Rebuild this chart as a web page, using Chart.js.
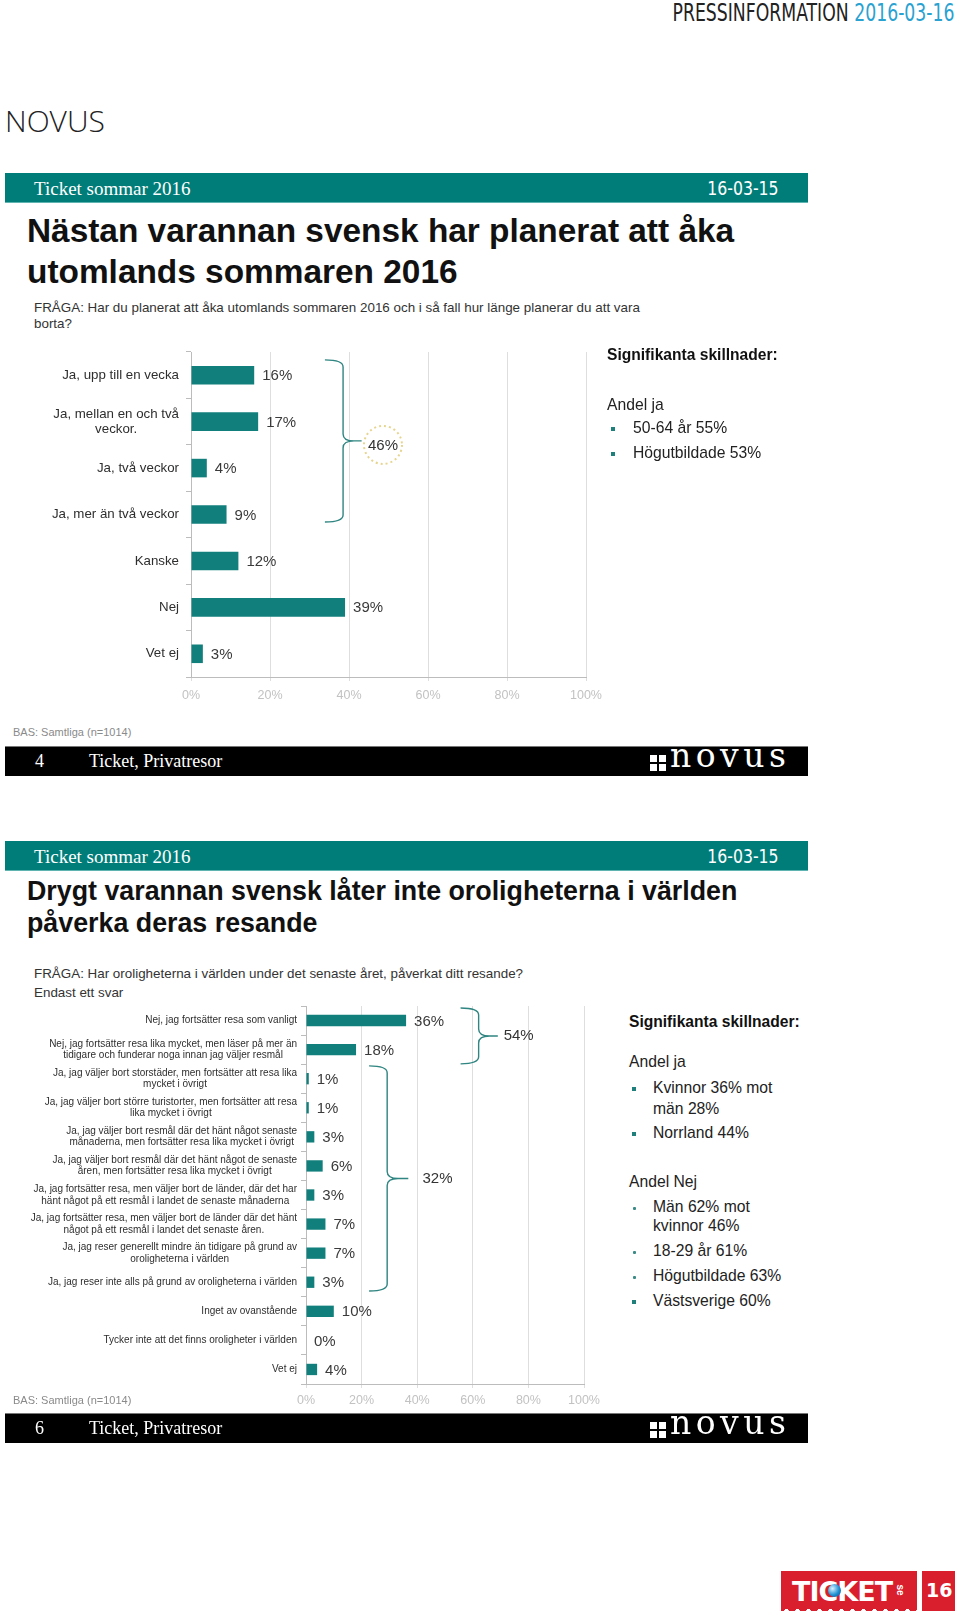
<!DOCTYPE html>
<html lang="sv">
<head>
<meta charset="utf-8">
<title>Ticket sommar 2016 - Novus</title>
<script src="https://cdn.jsdelivr.net/npm/chart.js@4.4.1/dist/chart.umd.min.js"></script>
<style>
  body { margin: 0; background: #fff; }
  #page { position: relative; width: 960px; height: 1618px; overflow: hidden;
          font-family: "Liberation Sans", Arial, sans-serif; color: #1a1a1a; }
  .t { position: absolute; white-space: nowrap; line-height: 1; }
  .band { position: absolute; left: 5px; width: 803px; }
  .teal { background: #007d79; border-bottom: 1px solid #5fb3b0; }
  .black { background: #000; border-top: 1px solid #777; }
  .serif { font-family: "Liberation Serif", "Times New Roman", serif; color: #fff; }
  .narrow { font-family: "Liberation Sans Narrow", "DejaVu Sans Condensed", sans-serif; }
  .title { position: absolute; left: 27px; font-weight: bold; color: #111; white-space: nowrap; }
  .q { position: absolute; left: 34px; font-size: 13.4px; color: #333; white-space: nowrap; }
  .bas { position: absolute; left: 13px; font-size: 11px; color: #8a8a8a; line-height: 1; }
  .ph { position: absolute; font-size: 15.6px; font-weight: bold; color: #111; line-height: 1; white-space: nowrap; }
  .pt { position: absolute; font-size: 15.7px; color: #222; line-height: 1; white-space: nowrap; }
  .sq { position: absolute; width: 4px; height: 4px; background: #1f7f7b; }
  .dot { position: absolute; width: 3px; height: 3px; background: #3a8a86; border-radius: 1px; }
  .novus { position: absolute; height: 20px; }
  .novus i { position: absolute; width: 7px; height: 7px; background: #fff; }
  .novus span { position: absolute; left: 20px; top: -14px; font-family: "DejaVu Serif", serif; font-size: 33px; color: #fff; line-height: 1; letter-spacing: 4.5px; }
  canvas { position: absolute; left: 0; }
</style>
</head>
<body>
<div id="page">

  <div class="t narrow" style="right:5px; top:1px; font-size:24px; color:#222; transform:scaleX(0.8); transform-origin:right center;">PRESSINFORMATION <span style="color:#2aa2d1;">2016-03-16</span></div>
  <div class="t" style="left:5px; top:106px; font-size:30px; font-family:'Open Sans', sans-serif; font-weight:300; color:#222;">NOVUS</div>

  <!-- slide 1 -->
  <div class="band teal" style="top:173px; height:29px;"></div>
  <div class="t serif" style="left:34px; top:179px; font-size:19px;">Ticket sommar 2016</div>
  <div class="t narrow" style="right:181px; top:179px; font-size:19px; color:#fff; transform:scaleX(0.92); transform-origin:right center;">16-03-15</div>
  <div class="title" style="top:210px; font-size:33.4px; line-height:41px;">Nästan varannan svensk har planerat att åka<br>utomlands sommaren 2016</div>
  <div class="q" style="top:300px; line-height:16px;">FRÅGA: Har du planerat att åka utomlands sommaren 2016 och i så fall hur länge planerar du att vara<br>borta?</div>

  <canvas id="chart1" width="620" height="360" style="top:350px;"></canvas>

  <div class="ph" style="left:607px; top:347px;">Signifikanta skillnader:</div>
  <div class="pt" style="left:607px; top:397px;">Andel ja</div>
  <div class="sq" style="left:611px; top:427px;"></div>
  <div class="pt" style="left:633px; top:420px;">50-64 år 55%</div>
  <div class="sq" style="left:611px; top:452px;"></div>
  <div class="pt" style="left:633px; top:445px;">Högutbildade 53%</div>

  <div class="bas" style="top:727px;">BAS: Samtliga (n=1014)</div>
  <div class="band black" style="top:746px; height:29px;"></div>
  <div class="t serif" style="left:35px; top:752px; font-size:18px;">4</div>
  <div class="t serif" style="left:89px; top:752px; font-size:18px;">Ticket, Privatresor</div>
  <div class="novus" style="left:650px; top:753px;">
    <i style="left:0; top:2px;"></i><i style="left:9px; top:2px;"></i>
    <i style="left:0; top:11px;"></i><i style="left:9px; top:11px;"></i>
    <span>novus</span>
  </div>

  <!-- slide 2 -->
  <div class="band teal" style="top:841px; height:29px;"></div>
  <div class="t serif" style="left:34px; top:847px; font-size:19px;">Ticket sommar 2016</div>
  <div class="t narrow" style="right:181px; top:847px; font-size:19px; color:#fff; transform:scaleX(0.92); transform-origin:right center;">16-03-15</div>
  <div class="title" style="top:875px; font-size:26.8px; line-height:32px;">Drygt varannan svensk låter inte oroligheterna i världen<br>påverka deras resande</div>
  <div class="q" style="top:964px; line-height:19px;">FRÅGA: Har oroligheterna i världen under det senaste året, påverkat ditt resande?<br>Endast ett svar</div>

  <canvas id="chart2" width="620" height="420" style="top:995px;"></canvas>

  <div class="ph" style="left:629px; top:1014px;">Signifikanta skillnader:</div>
  <div class="pt" style="left:629px; top:1054px;">Andel ja</div>
  <div class="sq" style="left:632px; top:1087px;"></div>
  <div class="pt" style="left:653px; top:1080px;">Kvinnor 36% mot</div>
  <div class="pt" style="left:653px; top:1101px;">män 28%</div>
  <div class="sq" style="left:632px; top:1132px;"></div>
  <div class="pt" style="left:653px; top:1125px;">Norrland 44%</div>
  <div class="pt" style="left:629px; top:1174px;">Andel Nej</div>
  <div class="dot" style="left:633px; top:1207px;"></div>
  <div class="pt" style="left:653px; top:1199px;">Män 62% mot</div>
  <div class="pt" style="left:653px; top:1218px;">kvinnor 46%</div>
  <div class="dot" style="left:633px; top:1251px;"></div>
  <div class="pt" style="left:653px; top:1243px;">18-29 år 61%</div>
  <div class="dot" style="left:633px; top:1276px;"></div>
  <div class="pt" style="left:653px; top:1268px;">Högutbildade 63%</div>
  <div class="sq" style="left:632px; top:1300px;"></div>
  <div class="pt" style="left:653px; top:1293px;">Västsverige 60%</div>

  <div class="bas" style="top:1395px;">BAS: Samtliga (n=1014)</div>
  <div class="band black" style="top:1413px; height:29px;"></div>
  <div class="t serif" style="left:35px; top:1419px; font-size:18px;">6</div>
  <div class="t serif" style="left:89px; top:1419px; font-size:18px;">Ticket, Privatresor</div>
  <div class="novus" style="left:650px; top:1420px;">
    <i style="left:0; top:2px;"></i><i style="left:9px; top:2px;"></i>
    <i style="left:0; top:11px;"></i><i style="left:9px; top:11px;"></i>
    <span>novus</span>
  </div>

  <!-- TICKET logo -->
  <div style="position:absolute; left:781px; top:1571px; width:136px; height:40px; background:#d91f2d;">
    <div class="t" style="left:11px; top:7px; font-family:'DejaVu Sans', sans-serif; font-weight:bold; font-size:27px; color:#fff; letter-spacing:-1px;">TICKET</div>
    <div style="position:absolute; left:47px; top:13px; width:13px; height:13px; border-radius:50%; background:radial-gradient(circle at 35% 35%, #d8f2ff, #1e8fd0 55%, #0a4f8a);"></div>
    <div class="t" style="left:113px; top:14px; font-size:10px; font-weight:bold; color:#fff; transform:rotate(90deg);">se</div>
    <div style="position:absolute; left:0; bottom:0; width:136px; height:5px; background:radial-gradient(circle at 50% 100%, #fff 2px, transparent 2.5px) repeat-x; background-size:11px 5px;"></div>
  </div>
  <div style="position:absolute; left:922px; top:1571px; width:33px; height:40px; background:#d91f2d;">
    <div class="t" style="left:4px; top:10px; font-family:'DejaVu Sans', sans-serif; font-weight:bold; font-size:19px; color:#fff;">16</div>
  </div>
</div>

<script>
// chart 1: planerar du att åka utomlands?
const labels1 = ['Ja, upp till en vecka', ['Ja, mellan en och två', 'veckor.'], 'Ja, två veckor',
                 'Ja, mer än två veckor', 'Kanske', 'Nej', 'Vet ej'];
const values1 = [16, 17, 4, 9, 12, 39, 3];
const braces1 = [{ from: 0, to: 3, text: '46%' }];

// chart 2: påverkar oroligheterna ditt resande?
const labels2 = [
  'Nej, jag fortsätter resa som vanligt',
  ['Nej, jag fortsätter resa lika mycket, men läser på mer än', 'tidigare och funderar noga innan jag väljer resmål'],
  ['Ja, jag väljer bort storstäder, men fortsätter att resa lika', 'mycket i övrigt'],
  ['Ja, jag väljer bort större turistorter, men fortsätter att resa', 'lika mycket i övrigt'],
  ['Ja, jag väljer bort resmål där det hänt något senaste', 'månaderna, men fortsätter resa lika mycket i övrigt'],
  ['Ja, jag väljer bort resmål där det hänt något de senaste', 'åren, men fortsätter resa lika mycket i övrigt'],
  ['Ja, jag fortsätter resa, men väljer bort de länder, där det har', 'hänt något på ett resmål i landet de senaste månaderna'],
  ['Ja, jag fortsätter resa, men väljer bort de länder där det hänt', 'något på ett resmål i landet det senaste åren.'],
  ['Ja, jag reser generellt mindre än tidigare på grund av', 'oroligheterna i världen'],
  'Ja, jag reser inte alls på grund av oroligheterna i världen',
  'Inget av ovanstående',
  'Tycker inte att det finns oroligheter i världen',
  'Vet ej'
];
const values2 = [36, 18, 1, 1, 3, 6, 3, 7, 7, 3, 10, 0, 4];
const braces2 = [{ from: 0, to: 1, text: '54%' }, { from: 2, to: 9, text: '32%' }];

const xTicks = [0, 20, 40, 60, 80, 100];

const TEAL = '#117f7b';
const FONT = '"Liberation Sans", Arial, sans-serif';

// brace shapes, in category steps (vertical) and axis percent (horizontal)
const braceLook1 = [{ topOff: -0.33, botOff: 0.16, tip: 33.9, spine: 38.5, point: 43.2, textX: 48.6, circle: true }];
const braceLook2 = [
  { topOff: -0.43, botOff: 0.49, tip: 55.6, spine: 62.1, point: 69, textX: 71.1 },
  { topOff: -0.44, botOff: 0.3, tip: 22.7, spine: 29.2, point: 36.8, textX: 41.9 }
];

function categoryLabels(font, gap, lineHeight) {
  return {
    id: 'categoryLabels',
    afterDraw(chart) {
      const ctx = chart.ctx, y = chart.scales.y;
      ctx.save();
      ctx.font = font;
      ctx.fillStyle = '#2e2e2e';
      ctx.textAlign = 'center';
      ctx.textBaseline = 'middle';
      chart.data.labels.forEach((lab, i) => {
        const lines = Array.isArray(lab) ? lab : [lab];
        const w = Math.max(...lines.map(l => ctx.measureText(l).width));
        const cx = y.right - gap - w / 2;
        const yc = y.getPixelForTick(i);
        lines.forEach((l, k) => ctx.fillText(l, cx, yc + (k - (lines.length - 1) / 2) * lineHeight));
      });
      ctx.restore();
    }
  };
}

function valueLabels(font, gap) {
  return {
    id: 'valueLabels',
    afterDatasetsDraw(chart) {
      const ctx = chart.ctx;
      const data = chart.data.datasets[0].data;
      ctx.save();
      ctx.font = font;
      ctx.fillStyle = '#3a3a3a';
      ctx.textAlign = 'left';
      ctx.textBaseline = 'middle';
      chart.getDatasetMeta(0).data.forEach((bar, i) => {
        ctx.fillText(data[i] + '%', bar.x + gap, bar.y + 1);
      });
      ctx.restore();
    }
  };
}

function bracePlugin(items, looks) {
  return {
    id: 'braces',
    afterDraw(chart) {
      const ctx = chart.ctx, x = chart.scales.x, y = chart.scales.y;
      const step = y.getPixelForTick(1) - y.getPixelForTick(0);
      items.forEach((b, n) => {
        const s = looks[n];
        const top = y.getPixelForTick(b.from) + s.topOff * step;
        const bot = y.getPixelForTick(b.to) + s.botOff * step;
        const mid = (top + bot) / 2;
        const xa = x.getPixelForValue(s.tip), xb = x.getPixelForValue(s.spine), xp = x.getPixelForValue(s.point);
        const r = Math.min(7, (bot - top) / 4);
        ctx.save();
        ctx.strokeStyle = '#2f8581';
        ctx.lineWidth = 1.4;
        ctx.beginPath();
        ctx.moveTo(xa, top);
        ctx.quadraticCurveTo(xb, top, xb, top + r);
        ctx.lineTo(xb, mid - r);
        ctx.quadraticCurveTo(xb, mid, xb + (xb - xa) * 0.6, mid);
        ctx.lineTo(xp, mid);
        ctx.moveTo(xb + (xb - xa) * 0.6, mid);
        ctx.quadraticCurveTo(xb, mid, xb, mid + r);
        ctx.lineTo(xb, bot - r);
        ctx.quadraticCurveTo(xb, bot, xa, bot);
        ctx.stroke();

        ctx.font = '15px ' + FONT;
        ctx.fillStyle = '#333';
        ctx.textBaseline = 'middle';
        const tx = x.getPixelForValue(s.textX);
        if (s.circle) {
          ctx.setLineDash([2, 3]);
          ctx.strokeStyle = '#e6d58f';
          ctx.lineWidth = 2;
          ctx.beginPath();
          ctx.arc(tx, mid + 4, 19, 0, Math.PI * 2);
          ctx.stroke();
          ctx.textAlign = 'center';
          ctx.fillText(b.text, tx, mid + 5);
        } else {
          ctx.textAlign = 'left';
          ctx.fillText(b.text, tx, mid);
        }
        ctx.restore();
      });
    }
  };
}

function makeChart(id, labels, values, braces, looks, cfg) {
  return new Chart(document.getElementById(id), {
    type: 'bar',
    data: {
      labels: labels,
      datasets: [{
        data: values,
        backgroundColor: TEAL,
        barPercentage: cfg.barPct,
        categoryPercentage: 1
      }]
    },
    options: {
      indexAxis: 'y',
      responsive: false,
      animation: false,
      layout: { padding: { top: cfg.top, right: cfg.right, left: 0, bottom: 0 } },
      plugins: { legend: { display: false }, tooltip: { enabled: false } },
      scales: {
        x: {
          min: xTicks[0],
          max: xTicks[xTicks.length - 1],
          afterBuildTicks: s => { s.ticks = xTicks.map(v => ({ value: v })); },
          ticks: { callback: v => v + '%', color: '#c2c2c2', font: { size: 12.5, family: FONT }, padding: cfg.tickPad, maxRotation: 0 },
          grid: { color: '#dedede', tickLength: 4 },
          border: { color: '#bcbcbc' },
          afterFit: s => { s.height = cfg.xh; }
        },
        y: {
          ticks: { display: false },
          grid: { drawOnChartArea: false, tickLength: 5, color: '#bcbcbc', offset: true },
          border: { color: '#bcbcbc' },
          afterFit: s => { s.width = cfg.yw; }
        }
      }
    },
    plugins: [
      categoryLabels(cfg.labelFont, cfg.labelGap, cfg.lineHeight),
      valueLabels('15px ' + FONT, 8),
      bracePlugin(braces, looks)
    ]
  });
}

makeChart('chart1', labels1, values1, braces1, braceLook1, {
  barPct: 0.4, top: 2, right: 34, xh: 33, yw: 191, tickPad: 7,
  labelFont: '13.3px ' + FONT, labelGap: 12, lineHeight: 15
});

makeChart('chart2', labels2, values2, braces2, braceLook2, {
  barPct: 0.39, top: 11, right: 36, xh: 31, yw: 306, tickPad: 5,
  labelFont: '10px ' + FONT, labelGap: 9, lineHeight: 11.5
});
</script>
</body>
</html>
